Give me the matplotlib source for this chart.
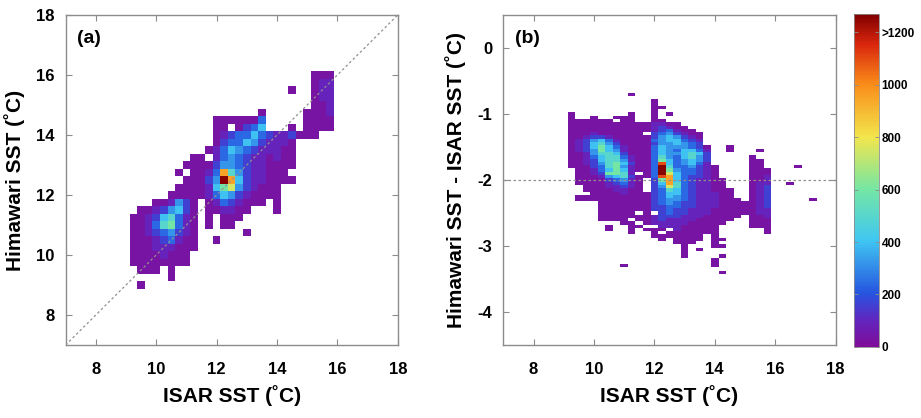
import numpy as np
import matplotlib
matplotlib.use("Agg")
import matplotlib.pyplot as plt
from matplotlib.colors import LinearSegmentedColormap

plt.rcParams["font.family"] = "Liberation Sans"
plt.rcParams["font.weight"] = "bold"
plt.rcParams["axes.unicode_minus"] = False

# ================================
# Data
# ================================
# every cell holds a code for its colour -> approximate count
LEVELS = {"1": 30, "2": 90, "3": 160, "4": 240, "5": 320, "6": 400,
          "7": 500, "8": 600, "9": 750, "A": 950, "B": 1100, "C": 1260}

# panel (a): Himawari SST vs ISAR SST, 0.25 degC bins
# columns: ISAR 9.25 .. 15.75, rows: Himawari 16.0 (top) .. 9.0 (bottom)
a_x_first, a_x_step = 9.25, 0.25
a_y_first, a_y_step = 16.0, -0.25
a_rows = [
    "........................111",
    "........................122",
    ".....................1..122",
    "........................122",
    "........................112",
    ".................1.....1112",
    "...........1111114.....1111",
    "...........11.1346...1.1111",
    "...........12344643223111..",
    "...........13446532221.....",
    "..........124654322211.....",
    "........11.24543221211.....",
    ".......111135543221111.....",
    "......1.1124A75322111......",
    ".......11135CA63221111.....",
    "......11112689532111.......",
    ".....111112465321111.......",
    "...112531.12432111.1.......",
    ".11235631.112211...1.......",
    "112367421.1.111............",
    "112478421.1.11.............",
    "112345321......1...........",
    "111234211..1...............",
    "111222111..................",
    "11112111...................",
    "11111111...................",
    ".111.1.....................",
    ".....1.....................",
    ".1.........................",
]

# panel (b): (Himawari - ISAR) vs ISAR SST, 0.25 x 0.05 degC bins
# columns: ISAR 9.25 .. 17.25, rows: difference -0.65 (top) .. -3.45 (bottom)
b_x_first, b_x_step = 9.25, 0.25
b_y_first, b_y_step = -0.65, -0.05
b_rows = [
    "..........." "............." ".........",
    "........1.." "............." ".........",
    "..........." "............." ".........",
    "..........." "1............" ".........",
    "..........." "1............" ".........",
    "..........." "11..........." ".........",
    "..........." "1............" ".........",
    "1.......1.." "1.1.........." ".........",
    "1..1..111.." "1............" ".........",
    "111111.11.." "11..........." ".........",
    "11111111111" "2211........." ".........",
    "11111111111" "23211........" ".........",
    "11111111111" "234211......." ".........",
    "1112111111." "3453211......" ".........",
    "11233211111" "3565321......" ".........",
    "12356421111" "4566432......" ".........",
    "12367531111" "3556543......" ".........",
    "12368642111" "46555431..1.." ".........",
    "12358652111" "46546642..1.." ".1.......",
    "11257763111" "46556763....." ".........",
    "11246774211" "47546753....." "1........",
    "11236775211" "48645653....." "11.......",
    "11235786311" "4B645642....." "11.......",
    "11134785211" "4C7445321...." "11....1..",
    ".1124686211" "4C8544321...." "111......",
    ".11238872.1" "4C9644321...." "111......",
    ".1112567311" "4BA643321...." "112......",
    ".111134521." "38A6432211..." "112......",
    ".111123421." "36A7432211..." "122..1...",
    "..11122321." "3597432211..." "123......",
    "..11112211." "34764322111.." "123......",
    "...11112111" "34664322211.." "123......",
    ".1111111111" "34654322211.." "123......",
    ".1111111111" "345543222111." "123.....1",
    "....1111111" "3454332221111" "123......",
    "....1111111" "3344332221111" "123......",
    "....1111111" "3343322211111" "122......",
    "....11111.1" ".343322211111" "122......",
    "....1111111" "233322211111." "112......",
    "....1111.11" "23222211111.." "111......",
    ".......11.1" "2222211111..." "111......",
    ".....1..11." ".22211111...." "111......",
    ".....1..1.1" "11.211111...." "..1......",
    "........1.." "1.1111111...." "..1......",
    "..........." "1111111.1...." ".........",
    "..........." ".1.1111.11..." ".........",
    "..........." "...111..1...." ".........",
    "..........." "....1...11..." ".........",
    "..........." "....1.1......" ".........",
    "..........." "....1........" ".........",
    "..........." "....1....1..." ".........",
    "..........." "........1...." ".........",
    "..........." "........1...." ".........",
    ".......1..." "........1...." ".........",
    "..........." "............." ".........",
    "..........." ".........1..." ".........",
    "..........." "............." ".........",
]

cbar_ticks = [0, 200, 400, 600, 800, 1000, 1200]
cbar_labels = ["0", "200", "400", "600", "800", "1000", ">1200"]
count_max = 1270


def decode(rows):
    grid = [[LEVELS.get(ch, np.nan) for ch in row] for row in rows]
    return np.ma.masked_invalid(np.array(grid, dtype=float))


def edges(first, step, n):
    return first - step / 2 + step * np.arange(n + 1)


# purple -> blue -> cyan -> green -> yellow -> orange -> dark red
cmap = LinearSegmentedColormap.from_list("sst_counts", [
    (0.00, (0.50, 0.05, 0.60)),
    (0.08, (0.38, 0.15, 0.75)),
    (0.16, (0.15, 0.33, 0.88)),
    (0.32, (0.25, 0.78, 0.95)),
    (0.47, (0.45, 0.90, 0.65)),
    (0.63, (0.95, 0.90, 0.30)),
    (0.79, (0.98, 0.55, 0.10)),
    (0.91, (0.85, 0.15, 0.05)),
    (1.00, (0.50, 0.00, 0.00)),
])

grey = "#8c8c8c"

fig = plt.figure(figsize=(9.21, 4.18), dpi=100)
ax_a = fig.add_axes([0.0712, 0.1746, 0.3607, 0.7895])
ax_b = fig.add_axes([0.5465, 0.1746, 0.3607, 0.7895])
cax = fig.add_axes([0.927, 0.170, 0.027, 0.797])

# ---- panel (a)
za = decode(a_rows)
xa = edges(a_x_first, a_x_step, za.shape[1])
ya = edges(a_y_first, a_y_step, za.shape[0])
ax_a.pcolormesh(xa, ya, za, cmap=cmap, vmin=0, vmax=count_max)
ax_a.plot([7, 18], [7, 18], color="#909090", lw=0.9, ls=(0, (2, 2)), zorder=3)
ax_a.set_xlim(7, 18)
ax_a.set_ylim(7, 18)
ax_a.set_xticks(range(8, 19, 2))
ax_a.set_yticks(range(8, 19, 2))
ax_a.set_xlabel("ISAR SST (˚C)", fontsize=15, fontweight="bold", labelpad=6)
ax_a.set_ylabel("Himawari SST (˚C)", fontsize=15, fontweight="bold", labelpad=8)
ax_a.text(0.035, 0.955, "(a)", transform=ax_a.transAxes, fontsize=14,
          fontweight="bold", va="top", ha="left")

# ---- panel (b)
zb = decode(b_rows)
xb = edges(b_x_first, b_x_step, zb.shape[1])
yb = edges(b_y_first, b_y_step, zb.shape[0])
mesh = ax_b.pcolormesh(xb, yb, zb, cmap=cmap, vmin=0, vmax=count_max)
ax_b.axhline(-2, color="#909090", lw=0.9, ls=(0, (2, 2)), zorder=3)
ax_b.set_xlim(7, 18)
ax_b.set_ylim(-4.5, 0.5)
ax_b.set_xticks(range(8, 19, 2))
ax_b.set_yticks([0, -1, -2, -3, -4])
ax_b.set_xlabel("ISAR SST (˚C)", fontsize=15, fontweight="bold", labelpad=6)
ax_b.set_ylabel("Himawari SST - ISAR SST (˚C)", fontsize=15, fontweight="bold",
                labelpad=8)
ax_b.text(0.035, 0.955, "(b)", transform=ax_b.transAxes, fontsize=14,
          fontweight="bold", va="top", ha="left")

for ax in (ax_a, ax_b):
    for sp in ax.spines.values():
        sp.set_color(grey)
        sp.set_linewidth(1.0)
    ax.tick_params(direction="in", length=4, width=0.8, color=grey,
                   top=True, right=True, labelsize=12)
    ax.tick_params(axis="x", pad=12)
    ax.tick_params(axis="y", pad=8)
    for lab in ax.get_xticklabels() + ax.get_yticklabels():
        lab.set_fontweight("bold")

# ---- colorbar
cb = fig.colorbar(mesh, cax=cax, ticks=cbar_ticks)
cb.ax.set_yticklabels(cbar_labels)
cb.outline.set_edgecolor(grey)
cb.outline.set_linewidth(0.6)
cb.ax.tick_params(direction="in", length=3, width=0.6, color=grey,
                  left=True, right=True, labelsize=8.5, pad=2)
for lab in cb.ax.get_yticklabels():
    lab.set_fontweight("bold")

fig.savefig("out.png", dpi=100)
